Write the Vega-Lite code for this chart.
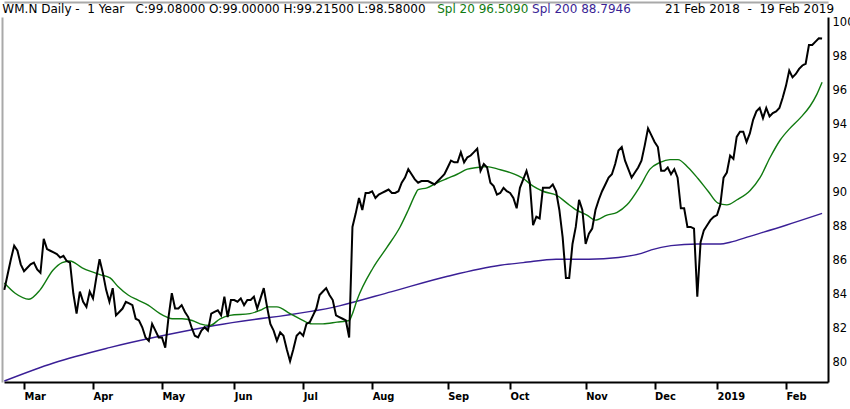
{
  "$schema": "https://vega.github.io/schema/vega-lite/v6.json",
  "width": 824,
  "height": 365,
  "autosize": "none",
  "padding": {"left": 4, "top": 17, "right": 22, "bottom": 27},
  "background": "white",
  "config": {
    "view": {"stroke": null},
    "axis": {"grid": false, "title": null}
  },
  "datasets": {
    "close": [
      {"day":0,"value":84.3},{"day":1,"value":85.2},{"day":2,"value":86.1},{"day":3,"value":86.9},{"day":4,"value":86.6},
      {"day":5,"value":85.8},{"day":6,"value":85.4},{"day":7,"value":85.6},{"day":8,"value":85.8},{"day":9,"value":85.9},
      {"day":10,"value":85.5},{"day":11,"value":85.3},{"day":12,"value":87.3},{"day":13,"value":86.7},{"day":14,"value":86.6},
      {"day":15,"value":86.5},{"day":16,"value":86.4},{"day":17,"value":86.2},{"day":18,"value":86.3},{"day":19,"value":86.0},
      {"day":20,"value":85.9},{"day":21,"value":84.1},{"day":22,"value":82.9},{"day":23,"value":84.2},{"day":24,"value":83.6},
      {"day":25,"value":83.3},{"day":26,"value":84.2},{"day":27,"value":83.8},{"day":28,"value":85.0},{"day":29,"value":86.1},
      {"day":30,"value":85.3},{"day":31,"value":84.3},{"day":32,"value":83.6},{"day":33,"value":84.4},{"day":34,"value":82.8},
      {"day":35,"value":83.0},{"day":36,"value":83.2},{"day":37,"value":83.6},{"day":38,"value":83.5},{"day":39,"value":83.4},
      {"day":40,"value":82.6},{"day":41,"value":82.5},{"day":42,"value":82.1},{"day":43,"value":81.5},{"day":44,"value":81.3},
      {"day":45,"value":82.3},{"day":46,"value":81.9},{"day":47,"value":81.5},{"day":48,"value":81.5},{"day":49,"value":80.9},
      {"day":50,"value":82.7},{"day":51,"value":84.1},{"day":52,"value":83.2},{"day":53,"value":83.2},{"day":54,"value":83.4},
      {"day":55,"value":83.0},{"day":56,"value":82.7},{"day":57,"value":82.1},{"day":58,"value":81.6},{"day":59,"value":81.5},
      {"day":60,"value":81.9},{"day":61,"value":82.1},{"day":62,"value":81.9},{"day":63,"value":82.9},{"day":64,"value":83.0},
      {"day":65,"value":83.1},{"day":66,"value":82.8},{"day":67,"value":83.9},{"day":68,"value":82.7},{"day":69,"value":83.7},
      {"day":70,"value":83.7},{"day":71,"value":83.6},{"day":72,"value":83.8},{"day":73,"value":83.4},{"day":74,"value":83.7},
      {"day":75,"value":83.7},{"day":76,"value":83.9},{"day":77,"value":83.2},{"day":78,"value":83.8},{"day":79,"value":84.4},
      {"day":80,"value":83.3},{"day":81,"value":82.3},{"day":82,"value":81.9},{"day":83,"value":81.3},{"day":84,"value":81.8},
      {"day":85,"value":81.6},{"day":86,"value":80.8},{"day":87,"value":80.1},{"day":88,"value":80.8},{"day":89,"value":81.6},
      {"day":90,"value":81.8},{"day":91,"value":81.6},{"day":92,"value":82.3},{"day":93,"value":82.4},{"day":94,"value":82.8},
      {"day":95,"value":83.2},{"day":96,"value":84.0},{"day":97,"value":84.2},{"day":98,"value":84.4},{"day":99,"value":84.0},
      {"day":100,"value":83.7},{"day":101,"value":82.8},{"day":102,"value":82.7},{"day":103,"value":82.6},{"day":104,"value":82.5},
      {"day":105,"value":81.5},{"day":106,"value":88.0},{"day":107,"value":88.8},{"day":108,"value":89.7},{"day":109,"value":89.0},
      {"day":110,"value":90.0},{"day":111,"value":90.0},{"day":112,"value":90.1},{"day":113,"value":89.7},{"day":114,"value":89.9},
      {"day":115,"value":90.0},{"day":116,"value":90.1},{"day":117,"value":90.2},{"day":118,"value":90.0},{"day":119,"value":90.0},
      {"day":120,"value":90.1},{"day":121,"value":90.6},{"day":122,"value":90.9},{"day":123,"value":91.4},{"day":124,"value":91.1},
      {"day":125,"value":90.8},{"day":126,"value":90.6},{"day":127,"value":90.7},{"day":128,"value":90.7},{"day":129,"value":90.7},
      {"day":130,"value":90.6},{"day":131,"value":90.5},{"day":132,"value":90.7},{"day":133,"value":90.9},{"day":134,"value":91.1},
      {"day":135,"value":91.5},{"day":136,"value":91.9},{"day":137,"value":91.8},{"day":138,"value":91.8},{"day":139,"value":92.4},
      {"day":140,"value":91.8},{"day":141,"value":92.1},{"day":142,"value":92.2},{"day":143,"value":92.4},{"day":144,"value":92.6},
      {"day":145,"value":91.3},{"day":146,"value":91.7},{"day":147,"value":91.5},{"day":148,"value":90.6},{"day":149,"value":90.4},
      {"day":150,"value":89.9},{"day":151,"value":90.0},{"day":152,"value":90.3},{"day":153,"value":90.1},{"day":154,"value":90.0},
      {"day":155,"value":89.7},{"day":156,"value":89.1},{"day":157,"value":90.3},{"day":158,"value":90.8},{"day":159,"value":91.3},
      {"day":160,"value":90.6},{"day":161,"value":88.1},{"day":162,"value":88.6},{"day":163,"value":88.5},{"day":164,"value":90.3},
      {"day":165,"value":90.3},{"day":166,"value":90.3},{"day":167,"value":90.5},{"day":168,"value":90.1},{"day":169,"value":89.0},
      {"day":170,"value":87.4},{"day":171,"value":85.0},{"day":172,"value":85.0},{"day":173,"value":87.0},{"day":174,"value":88.0},
      {"day":175,"value":89.6},{"day":176,"value":89.0},{"day":177,"value":87.0},{"day":178,"value":87.6},{"day":179,"value":87.9},
      {"day":180,"value":89.0},{"day":181,"value":89.6},{"day":182,"value":90.1},{"day":183,"value":90.5},{"day":184,"value":90.9},
      {"day":185,"value":91.1},{"day":186,"value":91.7},{"day":187,"value":92.5},{"day":188,"value":92.7},{"day":189,"value":91.9},
      {"day":190,"value":91.4},{"day":191,"value":90.9},{"day":192,"value":91.2},{"day":193,"value":91.5},{"day":194,"value":91.9},
      {"day":195,"value":92.8},{"day":196,"value":93.8},{"day":197,"value":93.4},{"day":198,"value":93.0},{"day":199,"value":92.7},
      {"day":200,"value":91.3},{"day":201,"value":91.3},{"day":202,"value":91.5},{"day":203,"value":91.1},{"day":204,"value":91.4},
      {"day":205,"value":90.9},{"day":206,"value":89.1},{"day":207,"value":89.1},{"day":208,"value":88.0},{"day":209,"value":88.0},
      {"day":210,"value":87.9},{"day":211,"value":83.9},{"day":212,"value":87.1},{"day":213,"value":87.8},{"day":214,"value":88.1},
      {"day":215,"value":88.4},{"day":216,"value":88.6},{"day":217,"value":88.7},{"day":218,"value":89.3},{"day":219,"value":90.9},
      {"day":220,"value":91.2},{"day":221,"value":92.2},{"day":222,"value":92.0},{"day":223,"value":93.3},{"day":224,"value":93.6},
      {"day":225,"value":93.6},{"day":226,"value":93.0},{"day":227,"value":93.5},{"day":228,"value":94.3},{"day":229,"value":94.8},
      {"day":230,"value":95.0},{"day":231,"value":94.4},{"day":232,"value":95.0},{"day":233,"value":94.5},{"day":234,"value":94.7},
      {"day":235,"value":94.8},{"day":236,"value":95.0},{"day":237,"value":95.6},{"day":238,"value":96.3},{"day":239,"value":97.2},
      {"day":240,"value":96.8},{"day":241,"value":97.0},{"day":242,"value":97.3},{"day":243,"value":97.5},{"day":244,"value":97.6},
      {"day":245,"value":98.7},{"day":246,"value":98.7},{"day":247,"value":98.9},{"day":248,"value":99.1},{"day":249,"value":99.08}
    ],
    "spl20": [
      {"day":0,"value":84.7},{"day":3.3,"value":84.1},{"day":7.5,"value":83.75},{"day":10.9,"value":84.3},{"day":14.8,"value":85.45},
      {"day":17.6,"value":85.9},{"day":20,"value":86.0},{"day":23.7,"value":85.6},{"day":26.1,"value":85.4},{"day":29.1,"value":85.2},
      {"day":32.2,"value":85.0},{"day":34.6,"value":84.5},{"day":37.7,"value":84.0},{"day":40.7,"value":83.7},{"day":43.8,"value":83.4},
      {"day":47.4,"value":82.9},{"day":49.5,"value":82.7},{"day":51.1,"value":82.6},{"day":54.1,"value":82.6},{"day":57.2,"value":82.5},
      {"day":59.6,"value":82.3},{"day":62.6,"value":82.2},{"day":65.7,"value":82.6},{"day":68.7,"value":82.8},{"day":74.8,"value":82.9},
      {"day":77.9,"value":83.1},{"day":80.3,"value":83.3},{"day":83,"value":83.3},{"day":87,"value":82.9},{"day":90,"value":82.6},
      {"day":93.7,"value":82.3},{"day":97,"value":82.3},{"day":101.3,"value":82.4},{"day":105,"value":82.5},{"day":106,"value":82.9},
      {"day":107.4,"value":83.7},{"day":112.3,"value":85.6},{"day":116.5,"value":86.8},{"day":120.5,"value":88.0},{"day":123,"value":89.0},
      {"day":125.1,"value":89.9},{"day":126,"value":90.2},{"day":128.7,"value":90.3},{"day":131.8,"value":90.6},{"day":134.8,"value":90.85},
      {"day":137.9,"value":91.1},{"day":141,"value":91.4},{"day":144,"value":91.5},{"day":147,"value":91.55},{"day":150.3,"value":91.4},
      {"day":154,"value":91.2},{"day":158,"value":90.85},{"day":161,"value":90.4},{"day":164,"value":90.1},{"day":168.3,"value":89.85},
      {"day":171.3,"value":89.4},{"day":174.4,"value":88.97},{"day":177.4,"value":88.7},{"day":179.9,"value":88.4},{"day":183.5,"value":88.7},
      {"day":186.6,"value":88.86},{"day":189.6,"value":89.3},{"day":193.6,"value":90.4},{"day":196.6,"value":91.4},{"day":199.7,"value":91.8},
      {"day":202.7,"value":91.96},{"day":205.1,"value":91.96},{"day":208.2,"value":91.5},{"day":211.2,"value":90.85},{"day":214.3,"value":90.1},
      {"day":217.3,"value":89.4},{"day":220,"value":89.3},{"day":223.1,"value":89.6},{"day":227.1,"value":90.15},{"day":230.1,"value":90.9},
      {"day":233.2,"value":92.1},{"day":236.2,"value":93.1},{"day":239.2,"value":93.8},{"day":242.3,"value":94.4},{"day":245.3,"value":95.1},
      {"day":247.4,"value":95.8},{"day":249,"value":96.509}
    ],
    "spl200": [
      {"day":0,"value":78.94},{"day":15,"value":80.0},{"day":32,"value":80.9},{"day":64,"value":82.2},{"day":102,"value":83.36},
      {"day":118,"value":84.2},{"day":135,"value":85.1},{"day":151,"value":85.75},{"day":158,"value":85.9},{"day":168,"value":86.1},
      {"day":178,"value":86.1},{"day":187,"value":86.2},{"day":194,"value":86.45},{"day":197,"value":86.65},{"day":203,"value":86.9},
      {"day":211,"value":87.0},{"day":218,"value":87.0},{"day":221,"value":87.1},{"day":227,"value":87.45},{"day":238,"value":88.1},
      {"day":249,"value":88.7946}
    ],
    "header": [
      {"day":-0.6,"part":"info","text":"WM.N Daily -\u00a0 1 Year \u00a0 C:99.08000 O:99.00000 H:99.21500 L:98.58000"},
      {"day":131.8,"part":"spl20","text":"Spl 20 96.5090"},
      {"day":160.7,"part":"spl200","text":"Spl 200 88.7946"},
      {"day":201.2,"part":"range","text":"21 Feb 2018 \u00a0-\u00a0 19 Feb 2019"}
    ]
  },
  "resolve": {
    "scale": {"x": "independent", "y": "independent"},
    "axis": {"x": "independent", "y": "independent"}
  },
  "layer": [
    {
      "data": {"name": "spl200"},
      "mark": {"type": "line", "color": "#3a1f96", "strokeWidth": 1.4, "interpolate": "monotone"},
      "encoding": {
        "x": {"field": "day", "type": "quantitative",
              "scale": {"domain": [-0.1, 250.8], "nice": false, "zero": false},
              "axis": {"orient": "top", "labels": false, "ticks": false, "domainColor": "#a9a9a9", "domainWidth": 2, "offset": 15}},
        "y": {"field": "value", "type": "quantitative",
              "scale": {"domain": [78.88, 100.35], "nice": false, "zero": false},
              "axis": {"orient": "left", "labels": false, "ticks": false, "domainColor": "#a9a9a9", "domainWidth": 2, "offset": 2}}
      }
    },
    {
      "data": {"name": "spl20"},
      "mark": {"type": "line", "color": "#107a10", "strokeWidth": 1.4, "interpolate": "monotone"},
      "encoding": {
        "x": {"field": "day", "type": "quantitative",
              "scale": {"domain": [-0.1, 250.8], "nice": false, "zero": false}, "axis": null},
        "y": {"field": "value", "type": "quantitative",
              "scale": {"domain": [78.88, 100.35], "nice": false, "zero": false}, "axis": null}
      }
    },
    {
      "data": {"name": "close"},
      "mark": {"type": "line", "color": "black", "strokeWidth": 2},
      "encoding": {
        "x": {"field": "day", "type": "quantitative",
              "scale": {"domain": [-0.1, 250.8], "nice": false, "zero": false},
              "axis": {
                "orient": "bottom",
                "values": [6, 27, 48, 70, 91, 112, 135, 154, 177, 198, 217, 238],
                "labelExpr": "['Mar','Apr','May','Jun','Jul','Aug','Sep','Oct','Nov','Dec','2019','Feb'][indexof([6,27,48,70,91,112,135,154,177,198,217,238], datum.value)]",
                "labelAlign": "left",
                "labelDx": 3,
                "labelPadding": 1,
                "labelFont": "DejaVu Sans Condensed",
                "labelFontWeight": "bold",
                "labelFontSize": 11,
                "labelColor": "black",
                "labelFlush": false,
                "labelOverlap": false,
                "tickColor": "black",
                "tickWidth": 2,
                "tickSize": 7,
                "domainColor": "black",
                "domainWidth": 2
              }},
        "y": {"field": "value", "type": "quantitative",
              "scale": {"domain": [78.88, 100.35], "nice": false, "zero": false},
              "axis": {
                "orient": "right",
                "values": [80, 82, 84, 86, 88, 90, 92, 94, 96, 98, 100],
                "ticks": false,
                "labelPadding": 4,
                "labelFont": "DejaVu Sans",
                "labelFontSize": 11.5,
                "labelColor": "black",
                "labelFlush": false,
                "labelOverlap": false,
                "domainColor": "black",
                "domainWidth": 2
              }}
      }
    },
    {
      "data": {"name": "header"},
      "mark": {"type": "text", "align": "left", "baseline": "alphabetic", "font": "DejaVu Sans", "fontSize": 12, "clip": false},
      "encoding": {
        "x": {"field": "day", "type": "quantitative",
              "scale": {"domain": [-0.1, 250.8], "nice": false, "zero": false}, "axis": null},
        "y": {"datum": 100.58, "type": "quantitative",
              "scale": {"domain": [78.88, 100.35], "nice": false, "zero": false}, "axis": null},
        "text": {"field": "text"},
        "color": {"field": "part", "type": "nominal", "legend": null,
                  "scale": {"domain": ["info", "spl20", "spl200", "range"], "range": ["black", "#107a10", "#3a1f96", "black"]}}
      }
    }
  ]
}
